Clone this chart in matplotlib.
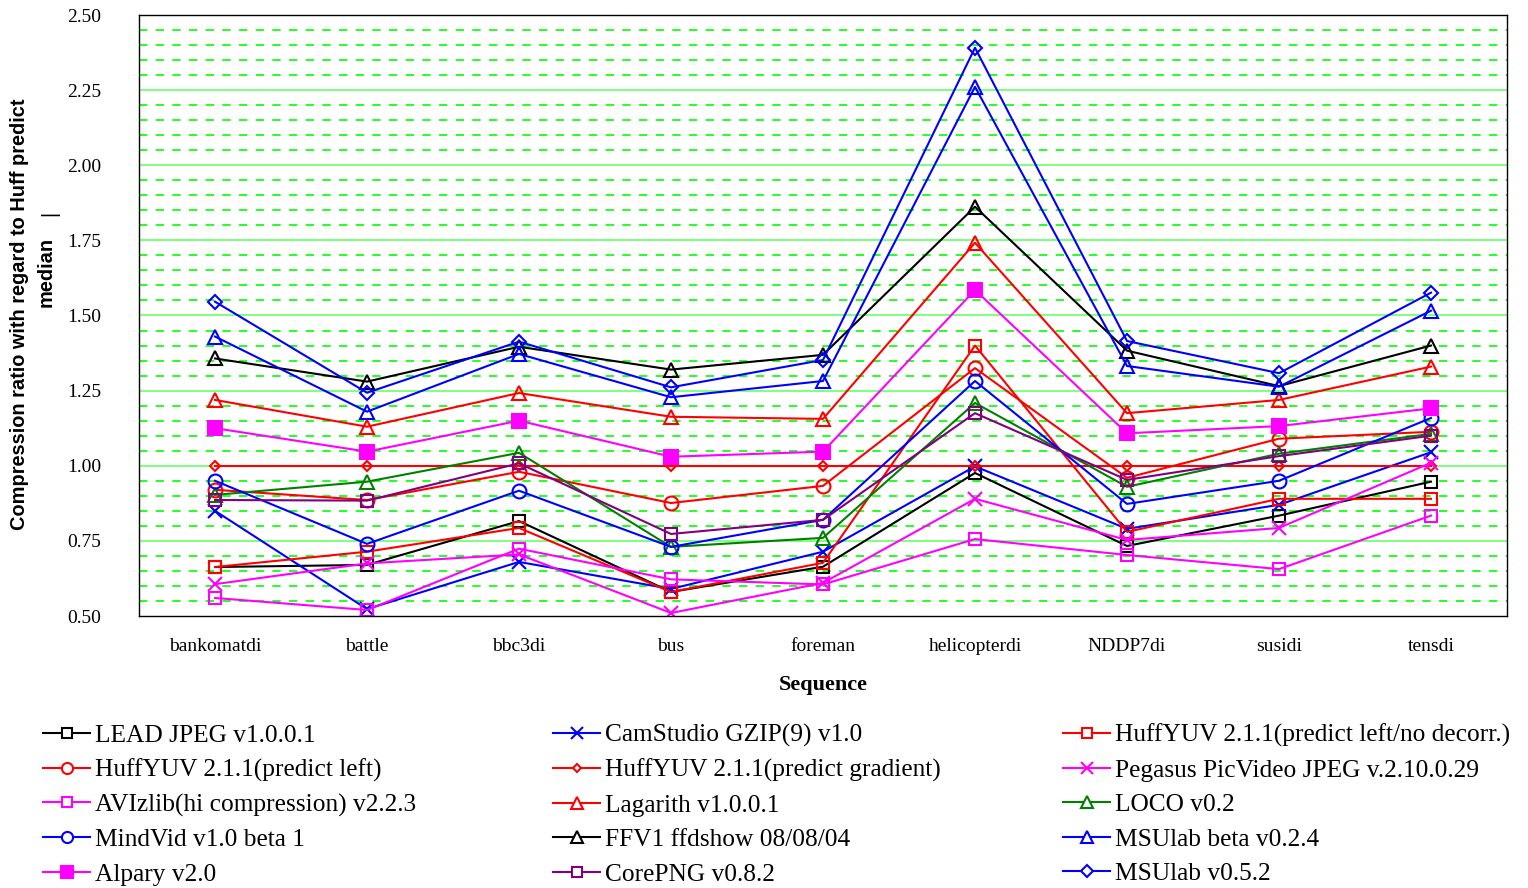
import numpy as np
import matplotlib
matplotlib.use("Agg")
import matplotlib.pyplot as plt
from matplotlib.lines import Line2D

# categories and values
sequences = ["bankomatdi", "battle", "bbc3di", "bus", "foreman",
             "helicopterdi", "NDDP7di", "susidi", "tensdi"]

lead_jpeg = [0.663, 0.67, 0.816, 0.58, 0.664, 0.976, 0.733, 0.834, 0.947]
camstudio = [0.85, 0.523, 0.68, 0.59, 0.714, 0.998, 0.79, 0.87, 1.045]
huff_nodecorr = [0.663, 0.714, 0.793, 0.58, 0.677, 1.40, 0.78, 0.89, 0.89]
huff_left = [0.92, 0.886, 0.98, 0.876, 0.933, 1.325, 0.96, 1.09, 1.113]
huff_gradient = [1.0, 1.0, 1.0, 1.0, 1.0, 1.0, 1.0, 1.0, 1.0]
pegasus = [0.606, 0.675, 0.705, 0.51, 0.61, 0.89, 0.753, 0.793, 1.01]
avizlib = [0.56, 0.52, 0.724, 0.622, 0.605, 0.756, 0.703, 0.656, 0.834]
lagarith = [1.219, 1.13, 1.242, 1.163, 1.156, 1.742, 1.175, 1.219, 1.33]
loco = [0.903, 0.947, 1.043, 0.73, 0.76, 1.209, 0.93, 1.04, 1.106]
mindvid = [0.95, 0.74, 0.917, 0.73, 0.82, 1.282, 0.873, 0.95, 1.159]
ffv1 = [1.357, 1.28, 1.396, 1.32, 1.369, 1.862, 1.383, 1.265, 1.40]
msulab_beta = [1.43, 1.18, 1.372, 1.228, 1.282, 2.261, 1.332, 1.263, 1.516]
alpary = [1.125, 1.047, 1.15, 1.03, 1.047, 1.585, 1.108, 1.132, 1.191]
corepng = [0.886, 0.884, 1.008, 0.773, 0.82, 1.175, 0.953, 1.032, 1.10]
msulab_052 = [1.546, 1.243, 1.413, 1.261, 1.352, 2.391, 1.415, 1.308, 1.576]

names = ["LEAD JPEG v1.0.0.1", "CamStudio GZIP(9) v1.0",
         "HuffYUV 2.1.1(predict left/no decorr.)",
         "HuffYUV 2.1.1(predict left)", "HuffYUV 2.1.1(predict gradient)",
         "Pegasus PicVideo JPEG v.2.10.0.29",
         "AVIzlib(hi compression) v2.2.3", "Lagarith v1.0.0.1", "LOCO v0.2",
         "MindVid v1.0 beta 1", "FFV1 ffdshow 08/08/04", "MSUlab beta v0.2.4",
         "Alpary v2.0", "CorePNG v0.8.2", "MSUlab v0.5.2"]
series = [lead_jpeg, camstudio, huff_nodecorr, huff_left, huff_gradient,
          pegasus, avizlib, lagarith, loco, mindvid, ffv1, msulab_beta,
          alpary, corepng, msulab_052]

# (colour, marker, markersize, filled)
styles = [("black", "s", 9, False), ("#0000ff", "x", 10, False),
          ("#ff0000", "s", 9, False), ("#ff0000", "o", 10, False),
          ("#ff0000", "D", 5.5, False), ("#ff00ff", "x", 10, False),
          ("#ff00ff", "s", 9, False), ("#ff0000", "^", 10, False),
          ("#008000", "^", 10, False), ("#0000ff", "o", 10, False),
          ("black", "^", 10, False), ("#0000ff", "^", 10, False),
          ("#ff00ff", "s", 10, True), ("#800080", "s", 9, False),
          ("#0000ff", "D", 7.5, False)]

W, H = 1528, 888
fig = plt.figure(figsize=(W / 100, H / 100), dpi=100)
ax = fig.add_axes([139 / W, 1 - 616 / H, (1507 - 139) / W, (616 - 15) / H])

x = np.arange(len(sequences))

# grid: solid every 0.25, dashed every 0.05
for v in np.arange(0.55, 2.5, 0.05):
    if abs(v / 0.25 - round(v / 0.25)) < 1e-6:
        ax.axhline(v, color="#00ff00", lw=1.3, alpha=0.55, zorder=0)
    else:
        ax.axhline(v, color="#00ff00", lw=1.2, ls=(0, (5, 5)), zorder=0)

handles = []
for vals, name, (c, m, ms, filled) in zip(series, names, styles):
    ln, = ax.plot(x, vals, color=c, lw=1.5, marker=m, markersize=ms,
                  markerfacecolor=c if filled else "none",
                  markeredgecolor=c, markeredgewidth=1.5, label=name)
    handles.append(Line2D([0], [0], color=c, lw=1.5, marker=m,
                          markersize=ms * 0.8,
                          markerfacecolor=c if filled else "white",
                          markeredgecolor=c, markeredgewidth=1.5))

ax.set_xlim(-0.5, len(sequences) - 0.5)
ax.set_ylim(0.5, 2.5)
ax.set_yticks(np.arange(0.5, 2.51, 0.25))
ax.set_yticklabels([f"{v:.2f}" for v in np.arange(0.5, 2.51, 0.25)],
                   family="Liberation Serif", fontsize=14)
ax.set_xticks(x)
ax.set_xticklabels(sequences, family="Liberation Serif", fontsize=14)
ax.tick_params(axis="y", length=0, pad=27)
ax.tick_params(axis="x", length=0, pad=16)
for sp in ax.spines.values():
    sp.set_color("black")
    sp.set_linewidth(1.0)

ax.set_xlabel("Sequence", family="Liberation Serif", fontweight="bold",
              fontsize=16, labelpad=14)

fig.text(20 / W, 1 - 314 / H, "Compression ratio with regard to Huff predict",
         rotation=90, ha="center", va="center", family="Liberation Sans",
         fontweight="bold", fontsize=14.4)
fig.text(46 / W, 1 - 272 / H, "median", rotation=90, ha="center",
         va="center", family="Liberation Sans", fontweight="bold",
         fontsize=14.4)
fig.text(50 / W, 1 - 213 / H, "|", rotation=90, ha="center", va="center",
         family="Liberation Sans", fontsize=14.4)

# legend: three columns, filled row by row
col_x = [43, 553, 1063]
for col in range(3):
    idx = [row * 3 + col for row in range(5)]
    leg = fig.legend([handles[i] for i in idx], [names[i] for i in idx],
                     loc="upper left", bbox_to_anchor=(col_x[col] / W, 1 - 724 / H),
                     frameon=False, prop={"family": "Liberation Serif", "size": 18.3},
                     handlelength=1.85, handletextpad=0.2, labelspacing=0.46,
                     borderaxespad=0, borderpad=0)

fig.savefig("out.png", dpi=100)
